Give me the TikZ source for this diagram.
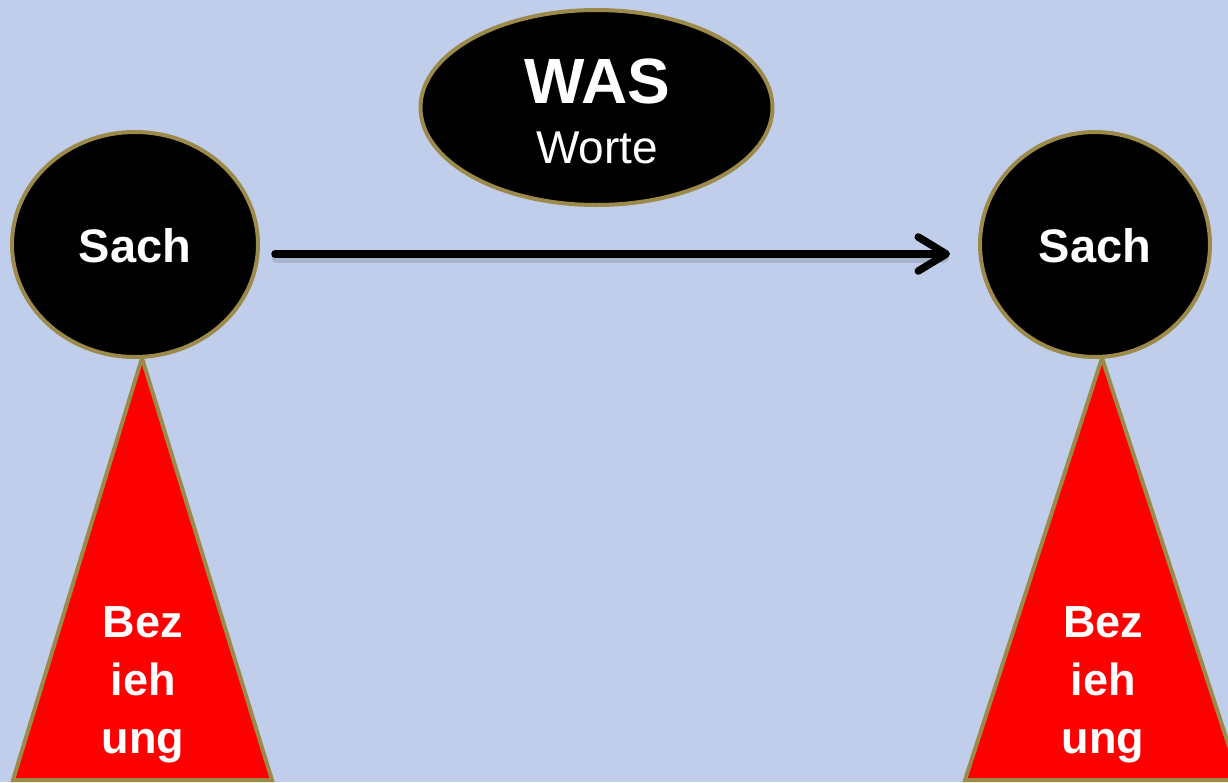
\documentclass[tikz,border=0pt]{standalone}
\usepackage{fontspec}
\setmainfont{Liberation Sans}
\usetikzlibrary{shapes.geometric,arrows.meta}
\definecolor{bgblue}{RGB}{192,206,235}
\definecolor{gold}{RGB}{156,138,74}
\definecolor{redfill}{RGB}{255,0,0}
\tikzset{
  dark/.style={ellipse, fill=black, draw=gold, line width=4pt, inner sep=0pt},
  tri/.style={fill=redfill, draw=gold, line width=4pt, line join=miter},
  sachtxt/.style={text=white, font=\fontsize{47}{47}\selectfont\bfseries, anchor=base},
  beztxt/.style={text=white, font=\fontsize{45}{58}\selectfont\bfseries, align=center, anchor=north},
  flow/.style={line width=7.5pt, line cap=round, -{Straight Barb[length=28pt,width=34pt,line cap=round,line join=round]}},
  flowshadow/.style={line width=9pt, line cap=round, draw=black!70, opacity=0.2}
}
\begin{document}
\begin{tikzpicture}[x=1pt,y=-1pt]
\fill[bgblue] (0,0) rectangle (1228,782);
\useasboundingbox (0,0) rectangle (1228,782);
% triangles
\draw[tri] (142,358) -- (13,780) -- (272,780) -- cycle;
\draw[tri] (1102,358) -- (965,780) -- (1240,780) -- cycle;
% circles
\node[dark, minimum width=246pt, minimum height=225pt] (s1) at (135,244.5) {};
\node[dark, minimum width=230pt, minimum height=225pt] (s2) at (1095,244.5) {};
\node[sachtxt] (t1) at (135,262) {Sach};
\node[sachtxt] (t2) at (1095,262) {Sach};
% top ellipse
\node[dark, minimum width=352pt, minimum height=195pt] (was) at (596.5,107.5) {};
\node[text=white, font=\fontsize{64}{64}\selectfont\bfseries, anchor=base] (wast) at (597,103) {WAS};
\node[text=white, font=\fontsize{46}{46}\selectfont, anchor=base] (worte) at (597,163) {Worte};
% arrow
\coordinate (a0) at (275,254);
\coordinate (a1) at (950,254);
\draw[flowshadow] ([shift={(1,4)}]a0) -- ([shift={(-6,4)}]a1);
\draw[flow] (a0) -- (a1);
% Beziehung text
\node[beztxt] (b1) at (143,603) {Bez\\ieh\\ung};
\node[beztxt] (b2) at (1103,603) {Bez\\ieh\\ung};
\end{tikzpicture}
\end{document}
